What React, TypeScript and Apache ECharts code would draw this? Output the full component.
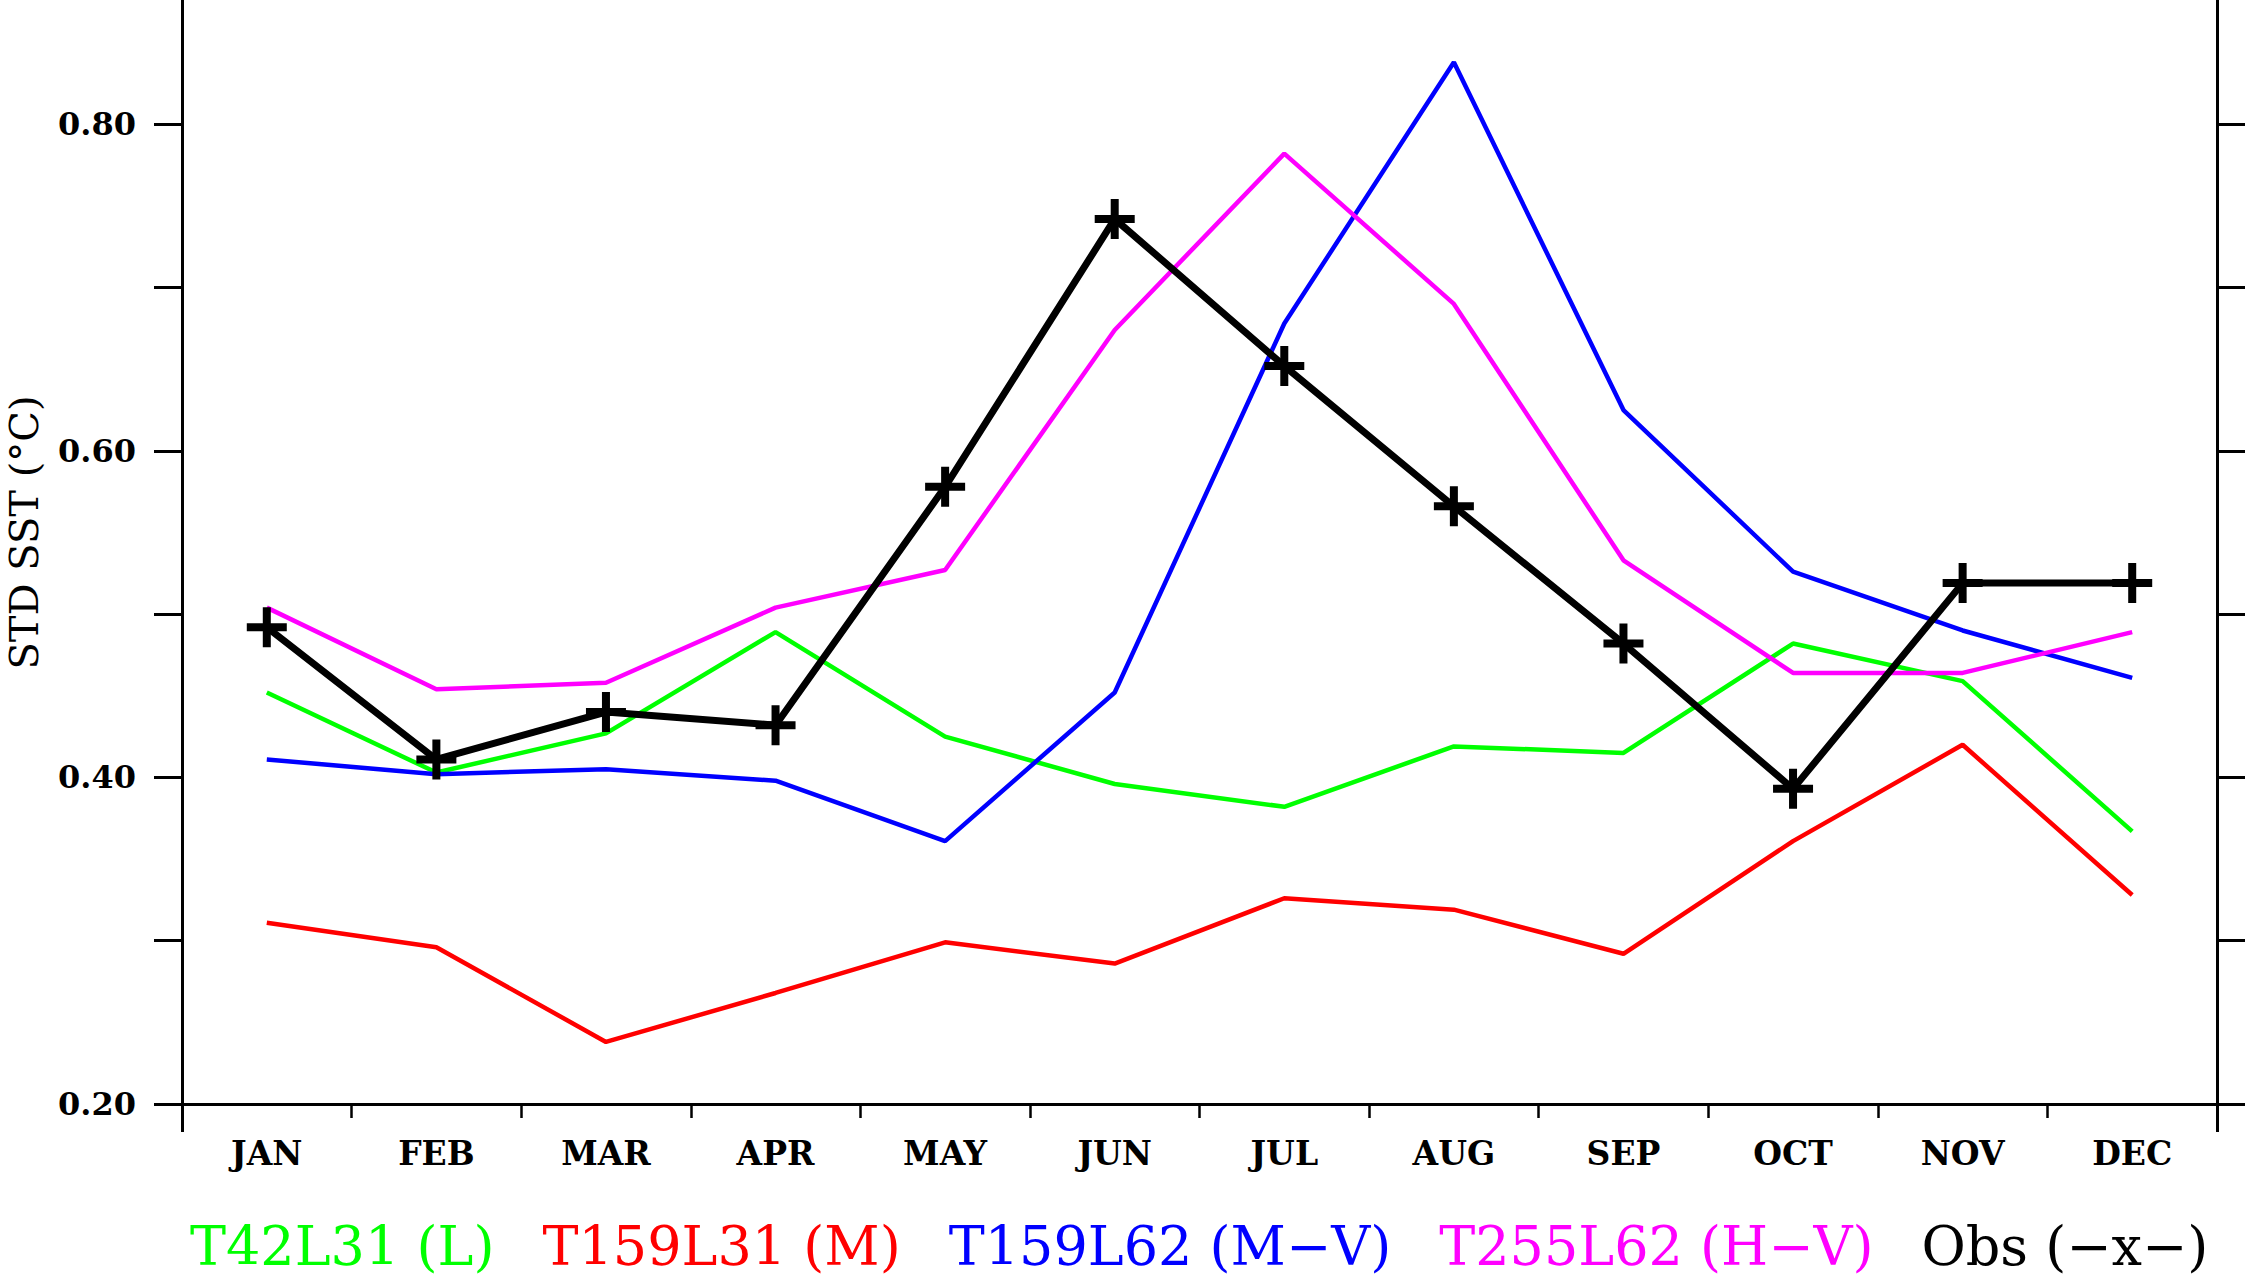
import React, { useEffect, useRef } from "react";
import * as echarts from "echarts";

const months = ["JAN", "FEB", "MAR", "APR", "MAY", "JUN", "JUL", "AUG", "SEP", "OCT", "NOV", "DEC"];

const t42l31 = [0.452, 0.403, 0.427, 0.489, 0.425, 0.396, 0.382, 0.419, 0.415, 0.482, 0.459, 0.367];
const t159l31 = [0.311, 0.296, 0.238, 0.268, 0.299, 0.286, 0.326, 0.319, 0.292, 0.361, 0.42, 0.328];
const t159l62 = [0.411, 0.402, 0.405, 0.398, 0.361, 0.452, 0.678, 0.838, 0.625, 0.526, 0.49, 0.461];
const t255l62 = [0.504, 0.454, 0.458, 0.504, 0.527, 0.674, 0.782, 0.69, 0.533, 0.464, 0.464, 0.489];
const obs = [0.492, 0.411, 0.44, 0.432, 0.578, 0.742, 0.652, 0.566, 0.482, 0.393, 0.519, 0.519];

const seriesNames = ["T42L31 (L)", "T159L31 (M)", "T159L62 (M−V)", "T255L62 (H−V)", "Obs (−x−)"];
const seriesColors = ["#00ff00", "#ff0000", "#0000ff", "#ff00ff", "#000000"];

const yMin = 0.2;
const yMax = 0.9;
const yInterval = 0.1;

const SERIF = "'DejaVu Serif', serif";
const PLUS = "path://M-4,-20H4V-4H20V4H4V20H-4V4H-20V-4H-4Z";

// the chart box starts above the page so that the top of the frame is cut off
const SHIFT = 39;

export default function App() {
  const ref = useRef<HTMLDivElement>(null);
  useEffect(() => {
    if (!ref.current) return;
    const chart = echarts.init(ref.current, undefined, { renderer: "svg" });
    const values = [t42l31, t159l31, t159l62, t255l62, obs];
    chart.setOption({
      animation: false,
      backgroundColor: "#ffffff",
      grid: { left: 182, right: 29, top: 0, bottom: 175, outerBoundsMode: "none", containLabel: false },
      legend: {
        left: 180,
        top: 1214 + SHIFT,
        icon: "none",
        itemWidth: 0,
        itemHeight: 0,
        itemGap: 43,
        selectedMode: false,
        textStyle: { fontFamily: SERIF, fontSize: 54 },
        data: seriesNames.map((n, i) => ({ name: n, textStyle: { color: seriesColors[i] } })),
      },
      xAxis: [
        {
          type: "category",
          data: months,
          boundaryGap: true,
          position: "bottom",
          axisLine: { show: true, lineStyle: { color: "#000", width: 3 } },
          axisTick: { show: true, inside: false, length: 14, lineStyle: { color: "#000", width: 2.5 } },
          axisLabel: {
            color: "#000",
            fontFamily: SERIF,
            fontWeight: "bold",
            fontSize: 33,
            margin: 33,
          },
          splitLine: { show: false },
        },
        {
          type: "value",
          min: 0,
          max: 1,
          interval: 1,
          position: "bottom",
          axisLine: { show: false },
          axisTick: { show: true, inside: false, length: 28, lineStyle: { color: "#000", width: 3 } },
          axisLabel: { show: false },
          splitLine: { show: false },
        },
      ],
      yAxis: [
        {
          type: "value",
          min: yMin,
          max: yMax,
          interval: yInterval,
          position: "left",
          name: "STD SST (°C)",
          nameLocation: "middle",
          nameRotate: 90,
          nameGap: 138,
          nameTextStyle: { color: "#000", fontFamily: SERIF, fontSize: 40 },
          axisLine: { show: true, lineStyle: { color: "#000", width: 3 } },
          axisTick: { show: true, inside: false, length: 28, lineStyle: { color: "#000", width: 3 } },
          axisLabel: {
            color: "#000",
            fontFamily: SERIF,
            fontWeight: "bold",
            fontSize: 32,
            margin: 46,
            formatter: (v: number) => (Math.round(v * 10) % 2 === 0 ? v.toFixed(2) : ""),
          },
          splitLine: { show: false },
        },
        {
          type: "value",
          min: yMin,
          max: yMax,
          interval: yInterval,
          position: "right",
          axisLine: { show: true, lineStyle: { color: "#000", width: 3 } },
          axisTick: { show: true, inside: false, length: 28, lineStyle: { color: "#000", width: 3 } },
          axisLabel: { show: false },
          splitLine: { show: false },
        },
      ],
      series: seriesNames.map((n, i) => {
        const isObs = i === 4;
        return {
          name: n,
          type: "line",
          data: values[i],
          xAxisIndex: 0,
          yAxisIndex: 0,
          color: seriesColors[i],
          lineStyle: { color: seriesColors[i], width: isObs ? 7 : 4.5 },
          symbol: isObs ? PLUS : "none",
          symbolSize: 40,
          showSymbol: isObs,
          itemStyle: { color: seriesColors[i] },
          z: isObs ? 5 : 2,
          emphasis: { disabled: true },
        };
      }),
    });
    return () => chart.dispose();
  }, []);
  return (
    <div
      ref={ref}
      style={{
        position: "absolute",
        left: 0,
        top: -SHIFT,
        width: 2246,
        height: 1279 + SHIFT,
        background: "#fff",
      }}
    />
  );
}
